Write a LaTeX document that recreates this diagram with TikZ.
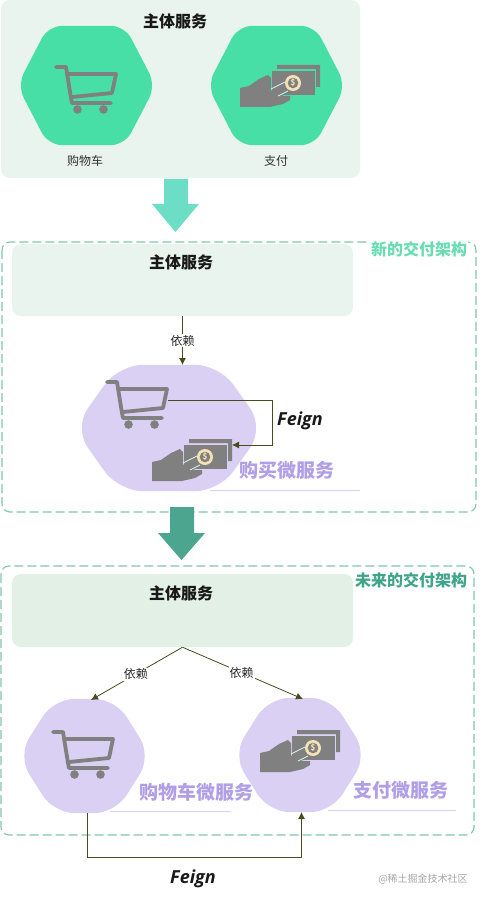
\documentclass[tikz,border=0pt]{standalone}
\usepackage{fontspec}
\setmainfont{Noto Sans CJK SC}
\newfontfamily\feignfont{Open Sans}
\usetikzlibrary{arrows.meta,calc}
\newcommand{\fs}[1]{\fontsize{#1}{#1}\selectfont}
\newcommand{\hexfill}[4]{% node, colour, inset, corner
  \fill[#2,rounded corners=#4pt] (#1.west) -- ($(#1.north west)+(#3,0)$) -- ($(#1.north east)+(-#3,0)$) -- (#1.east) -- ($(#1.south east)+(-#3,0)$) -- ($(#1.south west)+(#3,0)$) -- cycle;}
\definecolor{greenhex}{HTML}{47DFA6}
\definecolor{panelA}{HTML}{EAF4EF}
\definecolor{panelB}{HTML}{E3F0E5}
\definecolor{purphex}{HTML}{D9D0F3}
\definecolor{purptxt}{HTML}{B09EE6}
\definecolor{olive}{HTML}{474B1E}
\definecolor{icongrey}{HTML}{808080}
\definecolor{coincream}{HTML}{F4E2B4}
\definecolor{dashgreen}{HTML}{7FC4AD}
\definecolor{arrowA}{HTML}{6BDEC5}
\definecolor{arrowB}{HTML}{4BA58F}
\definecolor{archA}{HTML}{67DDB0}
\definecolor{archB}{HTML}{3FA58A}
\tikzset{
  panel/.style={fill=#1,rounded corners=9pt,inner sep=0pt,draw=none},
  hexa/.style={rectangle,draw=none,inner sep=0pt},
  dashbox/.style={draw=dashgreen,line width=1.1pt,dash pattern=on 9pt off 4pt,rounded corners=8pt},
  title/.style={font=\fs{16}\bfseries,text=black!90,inner sep=0pt},
  caption/.style={font=\fs{12},text=black!80,inner sep=0pt},
  dep/.style={font=\fs{12},text=black!85,fill=white,inner sep=1pt},
  svc/.style={font=\fs{19}\bfseries,text=purptxt,inner sep=0pt},
  archlabel/.style={font=\fs{16}\bfseries,text=#1,inner sep=1pt},
  feignlabel/.style={font=\fs{18}\feignfont\bfseries\itshape,text=black!90,inner sep=0pt},
  conn/.style={draw=olive,line width=0.8pt},
  connarrow/.style={conn,-{Latex[length=7pt,width=7pt]}},
  ruleline/.style={draw=purphex,line width=1pt},
  cartpic/.pic={
    \begin{scope}[draw=icongrey,line width=3.8pt,line cap=round,line join=round]
      \draw (0,2) -- (10,2) -- (15,33) -- (16,38) -- (55,38);
      \draw (12,9) -- (60,9) -- (56,28) -- (16,32);
    \end{scope}
    \fill[icongrey] (21.5,44.5) circle (4.3pt) (47.5,44.5) circle (4.3pt);
  },
  moneypic/.pic={
    \fill[icongrey] (37,0) -- (80,0) -- (80,22) -- (76,22) -- (76,4) -- (37,4) -- cycle;
    \fill[icongrey] (32,6) -- (75,6) -- (75,30) -- (32,30) -- cycle;
    \fill[icongrey] (0,23) -- (9,21) -- (19,14) -- (28,10) -- (31,13) -- (31,26) -- (46,20) -- (50,27) -- (41,31) -- (50,31) -- (50,35) -- (43,39) -- (30,42) -- (0,42) -- cycle;
    \draw[white!80!greenhex,line width=0.8pt] (31,24) -- (45,17);
    \draw[white!80!greenhex,line width=0.8pt] (38,31) -- (48,26);
    \fill[coincream] (53,18) circle (8pt);
    \fill[icongrey] (53,18) circle (5.3pt);
    \node[text=coincream,font=\fs{8}\bfseries,inner sep=0pt] at (53,18) {\$};
  },
}
\begin{document}
\begin{tikzpicture}[x=1pt,y=-1pt]
\useasboundingbox (0,0) rectangle (484,901);
% top panel
\node[panel=panelA,minimum width=359pt,minimum height=178pt] (p1) at (180.5,89) {};
\node[title] (t1) at (175,21) {主体服务};
\node[hexa,minimum width=138pt,minimum height=119pt] (h1) at (86.5,85.5) {};
\node[hexa,minimum width=138pt,minimum height=119pt] (h2) at (276.5,85.5) {};
\hexfill{h1}{greenhex}{31}{14}
\hexfill{h2}{greenhex}{31}{14}
\pic at (56,65) {cartpic};
\pic at (240,65) {moneypic};
\node[caption] (c1) at (85,161) {购物车};
\node[caption] (c2) at (276,161) {支付};
\fill[arrowA] (164,179) -- (188,179) -- (188,204) -- (199,204) -- (175.5,232) -- (152,204) -- (164,204) -- cycle;
% middle
\draw[dashbox] (2,242) rectangle (476,512);
\node[archlabel=archA,fill=white] (a1) at (419,249) {新的交付架构};
\node[panel=panelA,minimum width=341pt,minimum height=72pt] (p2) at (182.5,280) {};
\node[title] (t2) at (181,262) {主体服务};
\node[hexa,minimum width=190pt,minimum height=126pt] (h3) at (169,428) {};
\hexfill{h3}{purphex}{45}{24}
\pic at (107,380) {cartpic};
\pic at (152,439) {moneypic};
\coordinate (d1t) at (182.5,365);
\draw[connarrow] (p2.south) -- node[dep,pos=0.5] (d1) {依赖} (d1t);
\coordinate (f1s) at (168,400);
\coordinate (f1t) at (232,445);
\draw[connarrow] (f1s) -- (272,400) -- (272,445) -- (f1t);
\node[feignlabel] (f1) at (300,421) {Feign};
\node[svc] (s1) at (287,470) {购买微服务};
\coordinate (r1a) at (210,490); \coordinate (r1b) at (360,490);
\draw[ruleline] (r1a) -- (r1b);
\fill[arrowB] (170,507) -- (194,507) -- (194,533) -- (205,533) -- (181.5,560) -- (158,533) -- (170,533) -- cycle;
% bottom
\draw[dashbox] (1,566) rectangle (474,835);
\node[archlabel=archB,fill=white] (a2) at (411,580) {未来的交付架构};
\node[panel=panelB,minimum width=341pt,minimum height=73pt] (p3) at (182.5,610.5) {};
\node[title] (t3) at (181,593) {主体服务};
\node[hexa,minimum width=133pt,minimum height=114pt] (h4) at (84.5,756) {};
\node[hexa,minimum width=134pt,minimum height=114pt] (h5) at (300,755) {};
\hexfill{h4}{purphex}{36}{21}
\hexfill{h5}{purphex}{36}{21}
\pic at (53,730) {cartpic};
\pic at (260,730) {moneypic};
\coordinate (d4t) at (91,700);
\coordinate (d5t) at (303,699);
\draw[connarrow] (p3.south) -- node[dep,pos=0.51] (d2) {依赖} (d4t);
\draw[connarrow] (p3.south) -- node[dep,pos=0.49] (d3) {依赖} (d5t);
\coordinate (b1) at (87,813);
\coordinate (b2) at (301.5,812);
\draw[connarrow] (b1) -- (87,857) -- (301.5,857) -- (b2);
\node[svc] (s2) at (196,792) {购物车微服务};
\node[svc] (s3) at (401,790) {支付微服务};
\coordinate (r2a) at (110,811.5); \coordinate (r2b) at (231,811.5);
\draw[ruleline] (r2a) -- (r2b);
\coordinate (r3a) at (328,810); \coordinate (r3b) at (456,810);
\draw[ruleline] (r3a) -- (r3b);
\node[feignlabel] (f2) at (193,879) {Feign};
\node[font=\fs{10},text=black!35,inner sep=0pt] (wm) at (423,879) {@稀土掘金技术社区};
\end{tikzpicture}
\end{document}
